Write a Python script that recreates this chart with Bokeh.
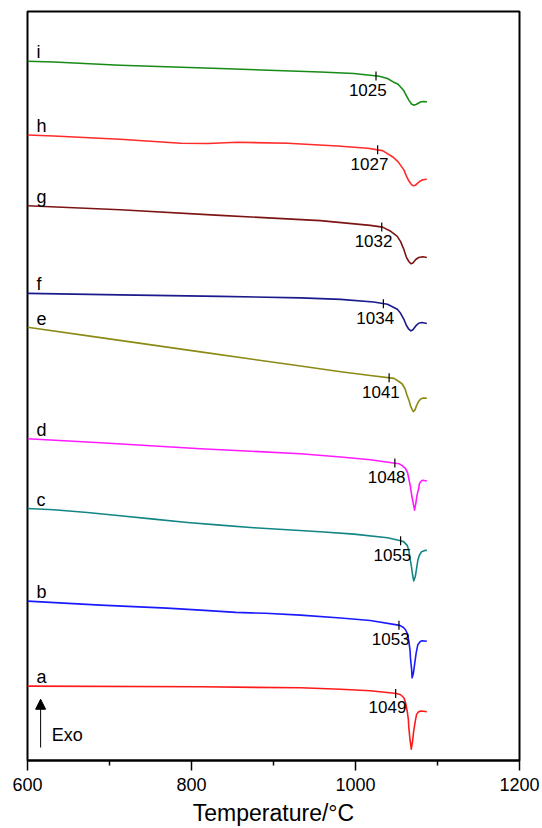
import numpy as np
from bokeh.plotting import figure
from bokeh.models import Range1d, FixedTicker, Arrow, NormalHead, Label, ColumnDataSource
from bokeh.core.properties import value
from bokeh.embed import file_html
from bokeh.resources import INLINE

# DSC traces of samples a–i, stacked with vertical offsets (arbitrary heat-flow units, exo up)
T_a = [600, 811, 933, 982, 1018, 1050, 1055, 1059, 1061, 1063, 1064.5, 1065, 1066.5, 1068,
       1069.5, 1071, 1073, 1074.5, 1077, 1079.5, 1083, 1087]
S_a = [74.7, 74, 73, 71.5, 70, 67.3, 66, 63, 58, 49.7, 41, 33, 21, 11.3,
       19, 29.7, 40, 46.3, 49, 49.7, 49.5, 49]

T_b = [600, 689, 770, 811, 835, 854, 872, 890, 933, 982, 1018, 1054, 1058.5, 1061, 1063.5,
       1065, 1066.5, 1067, 1068.5, 1069, 1070.5, 1072, 1074, 1076, 1079, 1081.5, 1087]
S_b = [160, 156, 153, 151, 149.7, 148.7, 148.2, 147.8, 146, 143, 140.5, 135.7, 133.5, 131.3,
       127, 119.7, 111, 103, 91, 83, 87, 96.3, 108, 116.3, 119.5, 120.3, 119.7]

T_c = [600, 632, 673, 713, 754, 795, 835, 876, 917, 957, 998, 1039, 1055, 1059, 1063, 1065,
       1066.5, 1068, 1069.5, 1071, 1073, 1074.5, 1076, 1078, 1080.5, 1085.5, 1087]
S_c = [253, 251.7, 249, 245.7, 242.3, 239, 236.3, 233.7, 231.7, 229.7, 227.3, 223.7, 220.7,
       219.5, 216, 211, 203, 196, 187, 180.3, 185, 193, 201, 206.3, 209.5, 211, 210.7]

T_d = [600, 689, 811, 933, 982, 1018, 1053, 1057, 1061, 1063.5, 1065, 1067, 1068.5, 1070.5,
       1072, 1073.5, 1075, 1077, 1078, 1080, 1082, 1087]
S_d = [323, 319, 313, 308, 304.7, 302, 298, 296, 293, 289, 283, 275, 266.3, 258,
       251.3, 258, 266.3, 273, 278, 280.5, 281.3, 280.7]

T_e = [600, 689, 811, 933, 982, 1018, 1047, 1052, 1057, 1060.5, 1063, 1065.5, 1067, 1069,
       1070.5, 1072.5, 1074.5, 1077, 1079.5, 1083, 1087]
S_e = [435, 424.6, 410.3, 396, 390.3, 386.5, 383.7, 381, 378, 373, 366.3, 361, 356.3, 352.5,
       350.3, 352, 356.3, 360.5, 363, 364, 363.7]

T_f = [600, 713, 835, 933, 982, 1022, 1039, 1051, 1055, 1059, 1062, 1065, 1067.5, 1070,
       1073.5, 1077, 1081, 1087]
S_f = [469, 467.5, 466, 464.5, 463, 460.3, 458, 453, 449, 443, 437, 433, 431.3, 432.5,
       436.3, 439, 439.7, 438.7]

T_g = [600, 713, 835, 957, 1018, 1033, 1043, 1051, 1055, 1059, 1062, 1065, 1067.5, 1070,
       1073.5, 1077, 1082, 1087]
S_g = [557, 553, 547.3, 542, 537.3, 535.5, 531.3, 526.3, 521, 513, 505.5, 501, 498.7, 499.5,
       503, 505, 505.7, 505]

T_h = [600, 632, 713, 787, 820, 856, 917, 978, 1015, 1033, 1046, 1052, 1059, 1062, 1065,
       1068, 1070.5, 1073, 1075.5, 1078.5, 1082, 1087]
S_h = [628, 627, 623.7, 619.7, 619.5, 620.7, 619.7, 617, 614.7, 612.3, 605.7, 601, 593, 587, 582,
       578.5, 577, 577.5, 579.5, 581.5, 583, 583.5]

T_i = [600, 632, 713, 835, 957, 998, 1029, 1039, 1046, 1052, 1058.5, 1062, 1065, 1068.3,
       1071, 1073.8, 1076, 1079.3, 1083, 1087]
S_i = [702, 701.3, 698, 694.7, 691.3, 689.7, 687, 684.7, 681.3, 679, 673, 667.5, 663, 659.2,
       658, 658.7, 659.7, 661.2, 661.7, 661.3]

samples = ["a", "b", "c", "d", "e", "f", "g", "h", "i"]
onsets = [1049, 1053, 1055, 1048, 1041, 1034, 1032, 1027, 1025]
temps = [T_a, T_b, T_c, T_d, T_e, T_f, T_g, T_h, T_i]
signals = [S_a, S_b, S_c, S_d, S_e, S_f, S_g, S_h, S_i]
colors = ["#ff1a1a", "#1a1aff", "#148585", "#ff1aff", "#8a8a14",
          "#1a1a8c", "#7d1414", "#ff2a2a", "#168c16"]

x_ticks = [600, 800, 1000, 1200]
x_minor = [700, 900, 1100]

FONT = "Liberation Sans"

p = figure(width=542, height=828, x_range=Range1d(600, 1200), y_range=Range1d(0, 752),
           output_backend="svg", toolbar_location=None, y_axis_location=None,
           min_border_left=27, min_border_right=23, min_border_top=11, min_border_bottom=65)
p.background_fill_color = "white"
p.border_fill_color = "white"
p.xgrid.visible = False
p.ygrid.visible = False
p.outline_line_color = "black"
p.outline_line_width = 2
p.outline_line_alpha = 1

ax = p.xaxis[0]
ax.ticker = FixedTicker(ticks=x_ticks, minor_ticks=x_minor)
ax.axis_line_width = 2
ax.major_tick_line_width = 1.5
ax.minor_tick_line_width = 1.5
ax.major_tick_out = 10
ax.major_tick_in = 0
ax.minor_tick_out = 5
ax.minor_tick_in = 0
ax.major_label_text_font = FONT
ax.major_label_text_font_size = "18px"
ax.major_label_text_color = "black"
ax.major_label_standoff = 7
ax.axis_label = "Temperature/°C"
ax.axis_label_text_font = FONT
ax.axis_label_text_font_size = "23px"
ax.axis_label_text_font_style = "normal"
ax.axis_label_text_color = "black"
ax.axis_label_standoff = 6

for name, T, S, col, on in zip(samples, temps, signals, colors, onsets):
    p.line(T, S, line_color=col, line_width=1.6, line_join="round")
    s_on = float(np.interp(on, T, S))
    src = ColumnDataSource(dict(x=[on], y=[s_on], t=[str(on)]))
    # onset marker and its value just below the trace
    p.scatter("x", "y", source=src, marker="dash", angle=np.pi / 2, size=9,
              line_color="black", line_width=1.2)
    p.text(x=on - 10, y=s_on, text=[str(on)], text_align="center", text_baseline="middle",
           y_offset=14, text_font=value(FONT), text_font_size="17px", text_color="black")
    # sample letter at the start of the trace
    p.add_layout(Label(x=611, y=S[0], text=name, y_offset=9, text_align="left",
                       text_baseline="alphabetic", text_font=FONT, text_font_size="18px",
                       text_color="black"))

p.add_layout(Arrow(end=NormalHead(size=10, fill_color="black", line_color="black"),
                   x_start=616, y_start=13, x_end=616, y_end=61.5,
                   line_color="black", line_width=1))
p.add_layout(Label(x=629.5, y=26, text="Exo", text_align="left", text_baseline="alphabetic",
                   text_font=FONT, text_font_size="18px", text_color="black"))

open("out.html", "w").write(file_html(p, INLINE))
